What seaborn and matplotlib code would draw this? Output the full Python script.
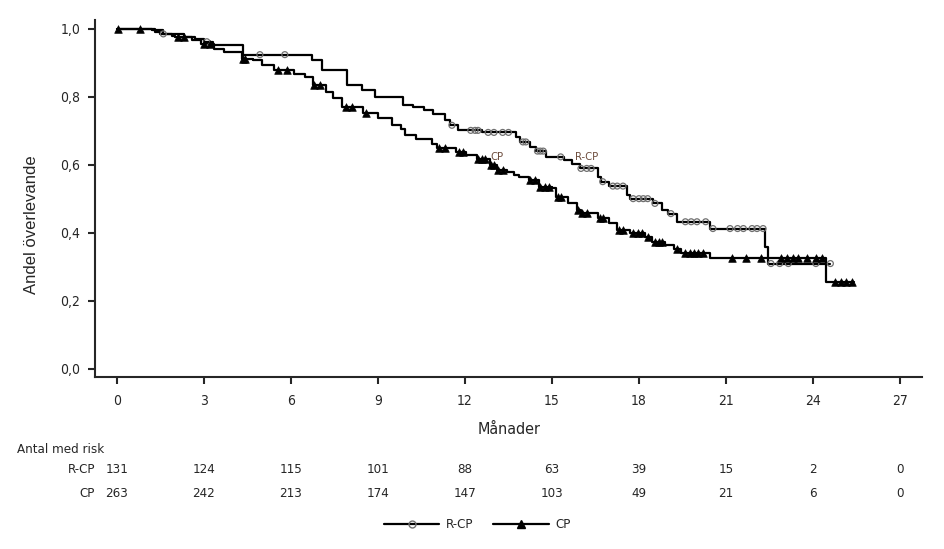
import numpy as np
import pandas as pd
import matplotlib
matplotlib.use('Agg')
import matplotlib.pyplot as plt
import matplotlib.transforms as mtransforms
from matplotlib.lines import Line2D
from matplotlib import font_manager
import seaborn as sns

# R-CP: step times (months) and survival after each step
rcp_time = [0, 1.3, 1.5, 2.3, 2.7, 3.0, 3.3, 4.35, 6.71, 7.06, 7.95, 8.44, 8.9,
            9.86, 10.2, 10.6, 10.9, 11.3, 11.5, 11.76, 12.6, 13.75, 13.9, 14.24,
            14.45, 14.8, 15.4, 15.7, 15.95, 16.6, 16.7, 16.95, 17.6, 17.7, 18.5,
            18.8, 19.0, 19.3, 20.45, 22.35, 22.45]
rcp_surv = [1.0, 0.992, 0.985, 0.977, 0.970, 0.962, 0.951, 0.924, 0.907, 0.878,
            0.834, 0.819, 0.798, 0.775, 0.770, 0.760, 0.750, 0.731, 0.716, 0.701,
            0.695, 0.682, 0.667, 0.652, 0.640, 0.623, 0.613, 0.603, 0.589, 0.564,
            0.550, 0.537, 0.510, 0.500, 0.486, 0.466, 0.456, 0.432, 0.412, 0.358,
            0.309]
rcp_censor = [1.6, 3.1, 4.93, 5.79, 11.55, 12.2, 12.35, 12.45, 12.8, 13.0, 13.3,
              13.5, 14.0, 14.1, 14.5, 14.6, 14.7, 15.3, 16.0, 16.2, 16.35, 16.75,
              17.1, 17.25, 17.45, 17.8, 18.0, 18.15, 18.3, 18.55, 19.1, 19.6, 19.8,
              20.0, 20.3, 20.55, 21.14, 21.4, 21.6, 21.9, 22.07, 22.28, 22.55,
              22.85, 23.15, 24.1, 24.6]
rcp_end = 24.6

# CP
cp_time = [0, 1.2, 1.6, 1.9, 2.0, 2.6, 2.9, 3.35, 3.7, 4.3, 4.7, 5.0, 5.4, 6.1,
           6.5, 6.75, 7.2, 7.45, 7.75, 8.5, 9.0, 9.5, 9.8, 9.95, 10.3, 10.85,
           11.05, 11.7, 12.05, 12.4, 12.85, 13.1, 13.45, 13.7, 13.85, 14.2, 14.55,
           15.0, 15.15, 15.55, 15.85, 16.0, 16.6, 16.95, 17.25, 17.7, 18.2, 18.45,
           18.9, 19.2, 19.45, 20.45, 24.45]
cp_surv = [1.0, 0.996, 0.985, 0.980, 0.976, 0.966, 0.956, 0.942, 0.932, 0.912,
           0.907, 0.893, 0.880, 0.868, 0.858, 0.834, 0.814, 0.795, 0.770, 0.751,
           0.736, 0.716, 0.706, 0.687, 0.677, 0.662, 0.648, 0.638, 0.628, 0.618,
           0.599, 0.584, 0.579, 0.569, 0.564, 0.554, 0.535, 0.530, 0.505, 0.486,
           0.466, 0.457, 0.442, 0.427, 0.407, 0.398, 0.388, 0.373, 0.363, 0.353,
           0.339, 0.324, 0.255]
cp_censor = [0.05, 0.8, 2.1, 2.3, 3.0, 3.2, 4.35, 4.4, 5.55, 5.85, 6.8, 7.0, 7.9,
             8.1, 8.6, 11.1, 11.3, 11.8, 11.95, 12.45, 12.6, 12.7, 12.9, 13.0,
             13.15, 13.3, 14.25, 14.4, 14.6, 14.75, 14.9, 15.2, 15.3, 15.9, 16.05,
             16.2, 16.65, 16.75, 17.3, 17.45, 17.8, 17.95, 18.1, 18.3, 18.55, 18.7,
             18.8, 19.3, 19.6, 19.75, 19.9, 20.05, 20.2, 21.2, 21.7, 22.2, 22.9,
             23.1, 23.3, 23.5, 23.8, 24.1, 24.3, 24.75, 24.95, 25.15, 25.35]
cp_end = 25.4

months = [0, 3, 6, 9, 12, 15, 18, 21, 24, 27]
risk_rcp = [131, 124, 115, 101, 88, 63, 39, 15, 2, 0]
risk_cp = [263, 242, 213, 174, 147, 103, 49, 21, 6, 0]

sns.set_style('ticks')

# the reference text is narrow; use a condensed sans if one is installed
narrow_font = None
for f in font_manager.fontManager.ttflist:
    name = f.name
    if 'Mono' in name or 'Serif' in name or f.style != 'normal':
        continue
    if f.weight not in (400, 'normal', 'regular', 'book'):
        continue
    if 'Narrow' in name or 'Condensed' in name or str(f.stretch) in ('condensed', 'semi-condensed', '75', '87.5'):
        narrow_font = f.fname
        break

plt.rcParams['font.family'] = ['Liberation Sans', 'DejaVu Sans']
if narrow_font:
    fp = font_manager.FontProperties(fname=narrow_font)
else:
    fp = font_manager.FontProperties(family=['Liberation Sans', 'DejaVu Sans'])
base_size = 9.5


def txt(size):
    p = fp.copy()
    p.set_size(size)
    return p


def km_frame(times, surv, end):
    return pd.DataFrame({'t': list(times) + [end], 's': list(surv) + [surv[-1]]})


def censor_frame(times, surv, cens):
    idx = np.searchsorted(times, cens, side='right') - 1
    return pd.DataFrame({'t': cens, 's': np.asarray(surv)[idx]})


fig = plt.figure(figsize=(9.45, 5.49), dpi=100)
ax = fig.add_axes([0.101, 0.3133, 0.8747, 0.6503])

sns.lineplot(data=km_frame(rcp_time, rcp_surv, rcp_end), x='t', y='s', ax=ax,
             color='black', lw=1.6, drawstyle='steps-post', estimator=None)
sns.lineplot(data=km_frame(cp_time, cp_surv, cp_end), x='t', y='s', ax=ax,
             color='black', lw=1.6, drawstyle='steps-post', estimator=None)
sns.scatterplot(data=censor_frame(rcp_time, rcp_surv, rcp_censor), x='t', y='s',
                ax=ax, marker='o', s=18, facecolor='none', edgecolor='#707070',
                linewidth=0.9, zorder=3)
sns.scatterplot(data=censor_frame(cp_time, cp_surv, cp_censor), x='t', y='s',
                ax=ax, marker='^', s=30, color='black', edgecolor='black',
                linewidth=0.5, zorder=3)

ax.set_xlim(-0.74, 27.76)
ax.set_ylim(-0.025, 1.026)
ax.set_xticks(months)
ax.set_yticks([0, 0.2, 0.4, 0.6, 0.8, 1.0])
ax.set_yticklabels(['0,0', '0,2', '0,4', '0,6', '0,8', '1,0'])
ax.tick_params(axis='both', length=5, width=1.5, pad=6)
ax.tick_params(axis='x', pad=7)
for lab in ax.get_xticklabels() + ax.get_yticklabels():
    lab.set_fontproperties(txt(base_size + 0.5))
for side in ['left', 'bottom']:
    ax.spines[side].set_linewidth(1.5)
sns.despine(ax=ax)

ax.set_xlabel('Månader', fontproperties=txt(11.5), va='center')
ax.xaxis.set_label_coords(0.5, -0.146)
ax.set_ylabel('Andel överlevande', fontsize=12, va='center')
ax.yaxis.set_label_coords(-0.077, 0.426)

ax.text(13.1, 0.622, 'CP', fontproperties=txt(8), color='#6b4a3a', ha='center', va='center')
ax.text(16.2, 0.622, 'R-CP', fontproperties=txt(8), color='#6b4a3a', ha='center', va='center')

# risk table
trans = mtransforms.blended_transform_factory(ax.transData, fig.transFigure)
fig.text(0.018, 0.182, 'Antal med risk', fontproperties=txt(base_size), va='center', ha='left')
fig.text(0.1005, 0.144, 'R-CP', fontproperties=txt(base_size), va='center', ha='right')
fig.text(0.1005, 0.102, 'CP', fontproperties=txt(base_size), va='center', ha='right')
for m, a, b in zip(months, risk_rcp, risk_cp):
    ax.text(m, 0.144, str(a), transform=trans, fontproperties=txt(base_size),
            ha='center', va='center')
    ax.text(m, 0.102, str(b), transform=trans, fontproperties=txt(base_size),
            ha='center', va='center')

handles = [
    Line2D([], [], color='black', lw=1.6, marker='o', markersize=5,
           markerfacecolor='none', markeredgecolor='#707070'),
    Line2D([], [], color='black', lw=1.6, marker='^', markersize=6,
           markerfacecolor='black', markeredgecolor='black'),
]
fig.legend(handles, ['R-CP', 'CP'], loc='center', bbox_to_anchor=(0.505, 0.044),
           ncol=2, frameon=False, prop=txt(base_size), handlelength=4.2,
           numpoints=1, columnspacing=1.5, handletextpad=0.5)

fig.savefig('out.png', dpi=100)
